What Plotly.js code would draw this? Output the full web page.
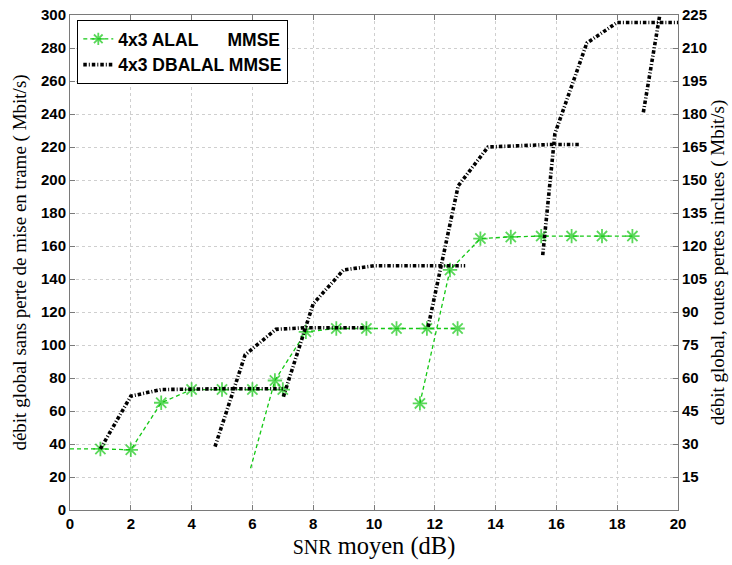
<!DOCTYPE html>
<html>
<head>
<meta charset="utf-8">
<script src="https://cdn.plot.ly/plotly-3.0.1.min.js"></script>
<style>html,body{margin:0;padding:0;background:#fff;}#chart{width:732px;height:565px;}</style>
</head>
<body>
<div id="chart"></div>
<script>
// ---- Data: 4x3 ALAL MMSE (green), three segments ----
var alalSeg1X = [0, 1, 2, 3, 4, 5, 6, 7];
var alalSeg1Y = [37, 37, 36.5, 65, 73, 73, 73, 73];
var alalSeg2X = [5.94, 6.74, 7.76, 8.76, 9.75, 10.74, 11.74, 12.75];
var alalSeg2Y = [25.3, 78.5, 108, 110, 110, 110, 110, 110];
var alalSeg3X = [11.51, 12.5, 13.5, 14.5, 15.5, 16.5, 17.5, 18.5];
var alalSeg3Y = [64.6, 145.5, 164.5, 165.5, 166, 166, 166, 166];
// segments whose first point carries no marker
var alalSegFirstMarked = [false, false, true];

// ---- Data: 4x3 DBALAL MMSE (black), six segments ----
var dbSeg1X = [1, 2, 3, 4, 5, 6, 7];
var dbSeg1Y = [37, 69, 73, 73.5, 73.5, 73.5, 73.5];
var dbSeg2X = [4.77, 5.76, 6.77, 7.76, 8.76, 9.76];
var dbSeg2Y = [38.4, 94, 109.5, 110.5, 110.5, 110.5];
var dbSeg3X = [7.02, 8, 9, 10, 11, 12, 13];
var dbSeg3Y = [68.7, 125, 145.5, 148, 148, 148, 148];
var dbSeg4X = [11.78, 12.77, 13.75, 14.75, 15.75, 16.75];
var dbSeg4Y = [111, 196.5, 220, 221, 221.5, 221.5];
var dbSeg5X = [15.55, 15.95, 17, 18, 19, 20];
var dbSeg5Y = [154.5, 228, 283, 295.5, 295.5, 295.5];
var dbSeg6X = [18.86, 19.86];
var dbSeg6Y = [241, 350];

// ---- Tick labels ----
var xTicks = [0, 2, 4, 6, 8, 10, 12, 14, 16, 18, 20];
var yLeftTicks = [0, 20, 40, 60, 80, 100, 120, 140, 160, 180, 200, 220, 240, 260, 280, 300];
var yRightTicks = [15, 30, 45, 60, 75, 90, 105, 120, 135, 150, 165, 180, 195, 210, 225];

function joinSegs(xs, ys, firstMarked) {
  var x = [], y = [], s = [];
  for (var i = 0; i < xs.length; i++) {
    if (i > 0) { x.push(null); y.push(null); s.push(0); }
    for (var j = 0; j < xs[i].length; j++) {
      x.push(xs[i][j]); y.push(ys[i][j]);
      s.push(firstMarked && j === 0 && !firstMarked[i] ? 0 : 12);
    }
  }
  return {x: x, y: y, s: s};
}

var g = joinSegs([alalSeg1X, alalSeg2X, alalSeg3X], [alalSeg1Y, alalSeg2Y, alalSeg3Y], alalSegFirstMarked);
var b = joinSegs([dbSeg1X, dbSeg2X, dbSeg3X, dbSeg4X, dbSeg5X, dbSeg6X],
                 [dbSeg1Y, dbSeg2Y, dbSeg3Y, dbSeg4Y, dbSeg5Y, dbSeg6Y], null);

var green = '#14c814';
var nb = '\u00A0';
var traces = [
  {
    x: g.x, y: g.y, type: 'scatter', mode: 'lines+markers', connectgaps: false,
    name: '4x3 ALAL' + nb + nb + nb + nb + nb + nb + 'MMSE',
    line: {color: green, width: 1.3, dash: '4px,3px'},
    marker: {symbol: 'asterisk-open', size: g.s, color: green, line: {color: green, width: 1.8}},
    cliponaxis: true
  },
  {
    x: b.x, y: b.y, type: 'scatter', mode: 'lines', connectgaps: false,
    name: '4x3 DBALAL MMSE',
    line: {color: '#000000', width: 3.6, dash: '3.5px,2px,1px,2px'}
  },
  {
    x: [null], y: [null], yaxis: 'y2', type: 'scatter', mode: 'lines', showlegend: false, hoverinfo: 'skip'
  }
];

var tickFont = {family: 'Liberation Sans', size: 15, color: '#000', weight: 'bold'};
var serif = 'Liberation Serif';

var layout = {
  width: 732, height: 565,
  margin: {l: 70, r: 54, t: 15, b: 55},
  paper_bgcolor: '#fff', plot_bgcolor: '#fff',
  showlegend: true,
  legend: {
    x: 0.012, y: 0.99, xanchor: 'left', yanchor: 'top',
    bgcolor: '#fff', bordercolor: '#000', borderwidth: 1,
    font: {family: 'Liberation Sans', size: 17.5, color: '#000', weight: 'bold'},
    tracegroupgap: 0, itemwidth: 30
  },
  xaxis: {
    range: [0, 20], tickvals: xTicks, ticktext: xTicks.map(String),
    showgrid: true, gridcolor: '#cfcfcf', griddash: 'dot', gridwidth: 1,
    zeroline: false, showline: true, linecolor: '#7a7a7a', linewidth: 1, mirror: 'ticks',
    ticks: 'inside', ticklen: 5, tickcolor: '#7a7a7a',
    tickfont: tickFont,
    title: {text: '<span style="font-size:20px">SNR</span> moyen (dB)', font: {family: serif, size: 24.5, color: '#000'}, standoff: 4}
  },
  yaxis: {
    range: [0, 300], tickvals: yLeftTicks, ticktext: yLeftTicks.map(String),
    showgrid: true, gridcolor: '#cfcfcf', griddash: 'dot', gridwidth: 1,
    zeroline: false, showline: true, linecolor: '#7a7a7a', linewidth: 1, mirror: true,
    ticks: 'inside', ticklen: 5, tickcolor: '#7a7a7a',
    tickfont: tickFont,
    title: {text: 'débit global sans perte de mise en trame ( Mbit/s)', font: {family: serif, size: 19, color: '#000'}, standoff: 9}
  },
  yaxis2: {
    range: [0, 225], overlaying: 'y', side: 'right',
    tickvals: yRightTicks, ticktext: yRightTicks.map(String),
    showgrid: false, zeroline: false, showline: true, linecolor: '#7a7a7a', linewidth: 1,
    ticks: 'inside', ticklen: 5, tickcolor: '#7a7a7a',
    tickfont: tickFont,
    title: {text: 'débit global, toutes pertes inclues ( Mbit/s)', font: {family: serif, size: 19, color: '#000'}, standoff: 3}
  }
};

Plotly.newPlot('chart', traces, layout, {displayModeBar: false, staticPlot: true});
</script>
</body>
</html>
